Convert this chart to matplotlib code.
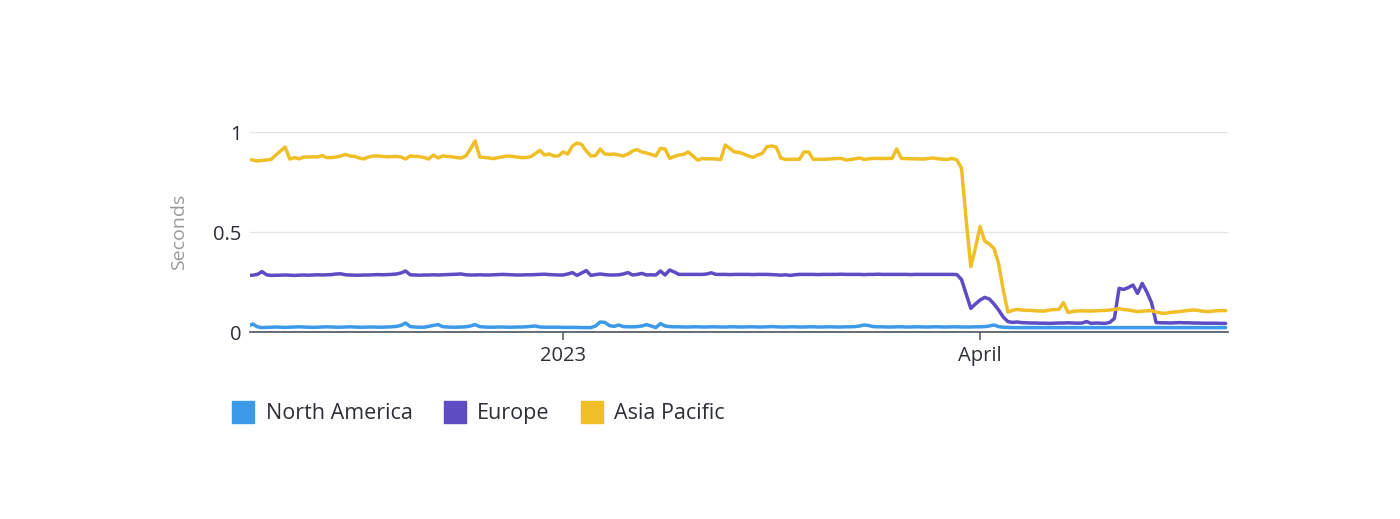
import numpy as np
import pandas as pd
import matplotlib
matplotlib.use("Agg")
import matplotlib.pyplot as plt
from matplotlib.lines import Line2D

# daily values, 2022-10-25 .. 2023-05-24
dates = pd.date_range("2022-10-25", periods=212, freq="D")

north_america = [
    0.030, 0.040, 0.026, 0.022, 0.023, 0.024, 0.025, 0.024, 0.023, 0.024,
    0.025, 0.026, 0.025, 0.024, 0.023, 0.024, 0.025, 0.026, 0.025, 0.024,
    0.024, 0.025, 0.026, 0.025, 0.024, 0.024, 0.025, 0.025, 0.024, 0.024,
    0.025, 0.026, 0.028, 0.033, 0.045, 0.027, 0.025, 0.024, 0.024, 0.028,
    0.033, 0.037, 0.027, 0.025, 0.024, 0.024, 0.025, 0.026, 0.030, 0.037,
    0.027, 0.025, 0.024, 0.024, 0.025, 0.025, 0.024, 0.024, 0.025, 0.025,
    0.026, 0.028, 0.030, 0.025, 0.024, 0.024, 0.024, 0.024, 0.023, 0.023,
    0.023, 0.023, 0.022, 0.022, 0.022, 0.030, 0.050, 0.048, 0.032, 0.028,
    0.035, 0.027, 0.026, 0.026, 0.027, 0.030, 0.037, 0.030, 0.022, 0.042,
    0.030, 0.027, 0.026, 0.026, 0.025, 0.025, 0.026, 0.026, 0.025, 0.025,
    0.026, 0.026, 0.025, 0.025, 0.026, 0.026, 0.025, 0.025, 0.026, 0.026,
    0.025, 0.025, 0.026, 0.027, 0.026, 0.025, 0.025, 0.026, 0.026, 0.025,
    0.025, 0.026, 0.026, 0.025, 0.025, 0.026, 0.026, 0.025, 0.025, 0.026,
    0.026, 0.027, 0.030, 0.035, 0.032, 0.027, 0.026, 0.026, 0.025, 0.025,
    0.026, 0.026, 0.025, 0.025, 0.026, 0.026, 0.025, 0.025, 0.026, 0.026,
    0.025, 0.025, 0.026, 0.026, 0.025, 0.025, 0.025, 0.026, 0.026, 0.027,
    0.030, 0.035, 0.027, 0.024, 0.023, 0.022, 0.022, 0.022, 0.022, 0.022,
    0.022, 0.022, 0.022, 0.022, 0.022, 0.022, 0.022, 0.022, 0.022, 0.022,
    0.022, 0.022, 0.022, 0.022, 0.022, 0.022, 0.022, 0.022, 0.022, 0.022,
    0.022, 0.022, 0.022, 0.022, 0.022, 0.022, 0.022, 0.022, 0.022, 0.022,
    0.022, 0.022, 0.022, 0.022, 0.022, 0.022, 0.022, 0.022, 0.022, 0.022,
    0.022, 0.022,
]

europe = [
    0.284, 0.284, 0.288, 0.302, 0.286, 0.283, 0.284, 0.284, 0.285, 0.284,
    0.283, 0.284, 0.285, 0.284, 0.285, 0.286, 0.285, 0.286, 0.287, 0.290,
    0.291, 0.286, 0.285, 0.284, 0.284, 0.285, 0.285, 0.286, 0.287, 0.286,
    0.287, 0.288, 0.290, 0.295, 0.305, 0.286, 0.285, 0.284, 0.285, 0.285,
    0.286, 0.285, 0.286, 0.287, 0.288, 0.289, 0.290, 0.286, 0.285, 0.285,
    0.286, 0.285, 0.285, 0.286, 0.287, 0.288, 0.287, 0.286, 0.285, 0.285,
    0.286, 0.286, 0.287, 0.288, 0.289, 0.287, 0.286, 0.285, 0.285, 0.290,
    0.297, 0.283, 0.295, 0.307, 0.283, 0.287, 0.290, 0.287, 0.285, 0.285,
    0.286, 0.290, 0.297, 0.285, 0.288, 0.293, 0.285, 0.286, 0.285, 0.305,
    0.285, 0.310, 0.300, 0.288, 0.288, 0.288, 0.288, 0.288, 0.288, 0.290,
    0.296, 0.288, 0.288, 0.288, 0.287, 0.288, 0.288, 0.288, 0.288, 0.287,
    0.288, 0.288, 0.288, 0.287, 0.286, 0.284, 0.286, 0.283, 0.286, 0.288,
    0.288, 0.288, 0.288, 0.287, 0.288, 0.288, 0.288, 0.288, 0.289, 0.288,
    0.288, 0.288, 0.288, 0.287, 0.288, 0.288, 0.289, 0.288, 0.288, 0.288,
    0.288, 0.288, 0.288, 0.287, 0.288, 0.288, 0.288, 0.288, 0.288, 0.288,
    0.288, 0.288, 0.288, 0.287, 0.262, 0.190, 0.118, 0.140, 0.160, 0.173,
    0.165, 0.140, 0.110, 0.075, 0.052, 0.048, 0.050, 0.047, 0.046, 0.045,
    0.045, 0.044, 0.044, 0.043, 0.044, 0.045, 0.045, 0.046, 0.045, 0.044,
    0.045, 0.052, 0.043, 0.045, 0.044, 0.043, 0.048, 0.068, 0.218, 0.213,
    0.222, 0.235, 0.193, 0.243, 0.200, 0.147, 0.047, 0.046, 0.046, 0.045,
    0.046, 0.047, 0.046, 0.046, 0.045, 0.045, 0.044, 0.044, 0.044, 0.044,
    0.043, 0.043,
]

asia_pacific = [
    0.863, 0.860, 0.855, 0.858, 0.860, 0.863, 0.885, 0.905, 0.925, 0.865,
    0.872, 0.866, 0.875, 0.875, 0.876, 0.875, 0.882, 0.872, 0.872, 0.875,
    0.880, 0.888, 0.880, 0.878, 0.870, 0.865, 0.875, 0.880, 0.880, 0.878,
    0.876, 0.877, 0.878, 0.875, 0.865, 0.880, 0.878, 0.877, 0.872, 0.865,
    0.885, 0.870, 0.880, 0.878, 0.876, 0.872, 0.870, 0.880, 0.915, 0.955,
    0.875, 0.873, 0.870, 0.867, 0.872, 0.876, 0.880, 0.878, 0.875, 0.872,
    0.872, 0.877, 0.892, 0.908, 0.885, 0.890, 0.880, 0.880, 0.900, 0.890,
    0.930, 0.945, 0.938, 0.905, 0.880, 0.882, 0.915, 0.890, 0.888, 0.890,
    0.885, 0.880, 0.890, 0.905, 0.912, 0.900, 0.895, 0.888, 0.880, 0.918,
    0.915, 0.868, 0.878, 0.885, 0.888, 0.900, 0.880, 0.860, 0.867, 0.866,
    0.866, 0.865, 0.862, 0.935, 0.918, 0.900, 0.898, 0.890, 0.880, 0.873,
    0.885, 0.893, 0.927, 0.930, 0.925, 0.870, 0.863, 0.863, 0.864, 0.863,
    0.900, 0.900, 0.863, 0.864, 0.863, 0.864, 0.866, 0.867, 0.868, 0.860,
    0.862, 0.866, 0.870, 0.863, 0.866, 0.868, 0.868, 0.867, 0.868, 0.868,
    0.915, 0.868, 0.867, 0.866, 0.866, 0.865, 0.865, 0.868, 0.870, 0.866,
    0.864, 0.863, 0.868, 0.860, 0.818, 0.560, 0.327, 0.420, 0.527, 0.455,
    0.440, 0.418, 0.343, 0.210, 0.100, 0.108, 0.113, 0.110, 0.108, 0.108,
    0.106, 0.105, 0.105, 0.110, 0.112, 0.113, 0.147, 0.097, 0.103, 0.105,
    0.106, 0.105, 0.105, 0.106, 0.107, 0.108, 0.110, 0.113, 0.117, 0.112,
    0.110, 0.106, 0.102, 0.104, 0.106, 0.107, 0.100, 0.095, 0.093, 0.098,
    0.100, 0.102, 0.105, 0.108, 0.110, 0.108, 0.104, 0.102, 0.104, 0.106,
    0.107, 0.107,
]

series_names = ["North America", "Europe", "Asia Pacific"]
series_values = [north_america, europe, asia_pacific]
colors = ["#3c9ae8", "#5d4cc3", "#f0bf27"]

tick_dates = [pd.Timestamp("2023-01-01"), pd.Timestamp("2023-04-01")]
tick_labels = ["2023", "April"]

plt.rcParams["font.family"] = ["Open Sans", "DejaVu Sans"]

fig = plt.figure(figsize=(14, 5.19), dpi=100)
ax = fig.add_axes([250 / 1400, 1 - 332 / 519, 978 / 1400, 200 / 519])

for name, vals, c in zip(series_names, series_values, colors):
    ax.plot(dates, vals, color=c, linewidth=2.5, label=name,
            solid_joinstyle="round", solid_capstyle="round", zorder=3)

x_left = dates[0] + pd.Timedelta(hours=10)
ax.set_xlim(x_left, x_left + pd.Timedelta(days=211.1))
ax.set_ylim(0, 1.0)
ax.set_yticks([0, 0.5, 1])
ax.set_yticklabels(["0", "0.5", "1"])
ax.set_xticks(tick_dates)
ax.set_xticklabels(tick_labels)

for s in ["top", "right", "left"]:
    ax.spines[s].set_visible(False)
ax.spines["bottom"].set_color("#5a6069")
ax.spines["bottom"].set_linewidth(1.3)
ax.spines["bottom"].set_zorder(2)

ax.grid(axis="y", color="#e6e6e6", linewidth=1.0, zorder=0)
ax.set_axisbelow(True)

ax.tick_params(axis="y", length=0, pad=6, labelsize=14.5, labelcolor="#2b2f36")
ax.tick_params(axis="x", length=6, width=1.2, color="#5a6069", pad=4,
               labelsize=14.5, labelcolor="#2b2f36", direction="out")

ax.set_ylabel("Seconds", fontsize=14, color="#9a9a9a")
ax.yaxis.set_label_coords(-62 / 978, 0.5)

handles = [Line2D([], [], linestyle="none", marker="s", markersize=16,
                  markerfacecolor=c, markeredgecolor=c) for c in colors]
fig.legend(handles, series_names, loc="upper left",
           bbox_to_anchor=(213 / 1400, 1 - 384 / 519), ncol=3, frameon=False,
           fontsize=15.5, labelcolor="#2b2f36", handletextpad=0.55,
           columnspacing=1.45, handlelength=1.0)

fig.savefig("out.png", dpi=100)
